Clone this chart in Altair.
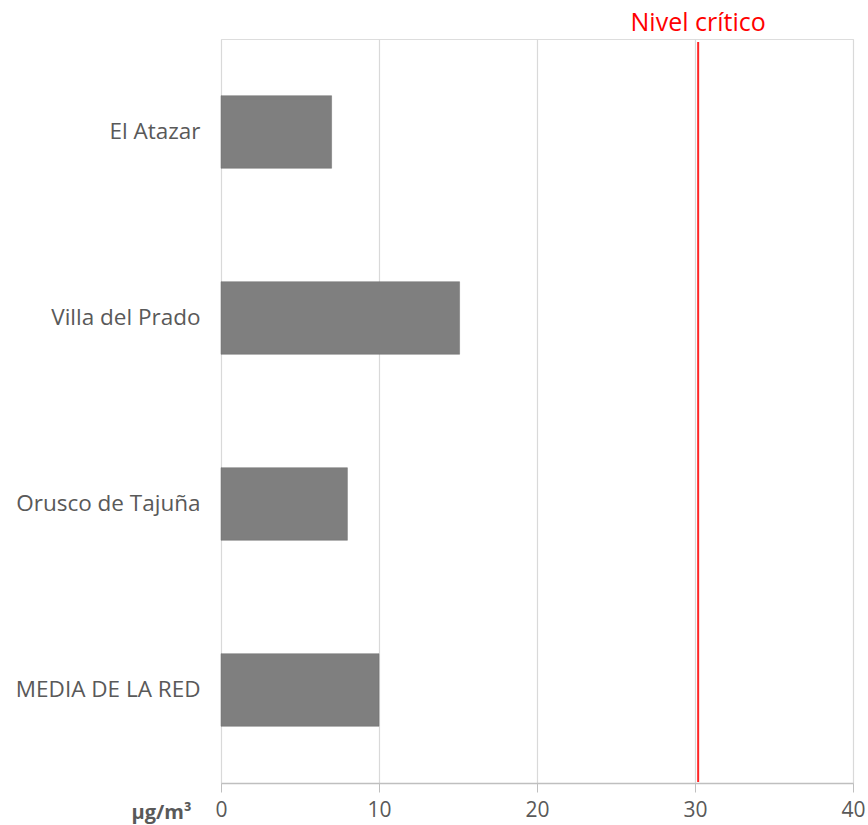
import altair as alt
import pandas as pd

# Station values (µg/m³)
stations = ["El Atazar", "Villa del Prado", "Orusco de Tajuña", "MEDIA DE LA RED"]
values = [7.0, 15.1, 8.0, 10.0]

# Critical level reference
critical_label = ["Nivel crítico"]
critical_value = [30.2]

W, H = 632, 744
FONT = "Open Sans"
GREY = "#595959"

bars_df = pd.DataFrame({"station": stations, "value": values})
crit_df = pd.DataFrame({"label": critical_label, "value": critical_value})

x_scale = alt.Scale(domain=[0, 40], nice=False, zero=True)

bars = alt.Chart(bars_df).mark_bar(color="#7f7f7f", stroke="#6f6f6f", strokeWidth=0.5).encode(
    x=alt.X(
        "value:Q",
        scale=x_scale,
        axis=alt.Axis(
            values=[0, 10, 20, 30, 40],
            title="µg/m³",
            titleX=-30,
            titleY=29,
            titleAlign="right",
            titleBaseline="middle",
            titleFont=FONT,
            titleFontSize=20,
            titleFontWeight="bold",
            titleColor=GREY,
            labelFont=FONT,
            labelFontSize=21,
            labelColor=GREY,
            labelPadding=7,
            labelFlush=False,
            tickSize=9,
            tickColor="#bfbfbf",
            domainColor="#bfbfbf",
            domainWidth=1.5,
            gridColor="#d9d9d9",
            gridWidth=1.2,
        ),
    ),
    y=alt.Y(
        "station:N",
        sort=stations,
        scale=alt.Scale(paddingInner=0.61, paddingOuter=0.305),
        axis=alt.Axis(
            title=None,
            labelFont=FONT,
            labelFontSize=22.5,
            labelColor=GREY,
            labelPadding=21,
            labelLimit=300,
            ticks=False,
            domain=False,
        ),
    ),
)

rule = alt.Chart(crit_df).mark_rule(color="#ff0000", strokeWidth=2, opacity=0.85).encode(
    x=alt.X("value:Q", scale=x_scale),
    y=alt.value(3),
    y2=alt.value(H - 1),
)

rule_label = alt.Chart(crit_df).mark_text(
    color="#ff0000", font=FONT, fontSize=25, baseline="middle", align="center"
).encode(
    x=alt.X("value:Q", scale=x_scale),
    y=alt.value(-16),
    text="label:N",
)

chart = (
    alt.layer(bars, rule, rule_label)
    .properties(
        width=W,
        height=H,
        autosize=alt.AutoSizeParams(type="none"),
        padding={"left": 221, "top": 39, "right": 15, "bottom": 42},
    )
    .configure_view(stroke=None)
    .configure(background="white")
)

chart.save("out.html", embed_options={"renderer": "svg", "actions": False})
